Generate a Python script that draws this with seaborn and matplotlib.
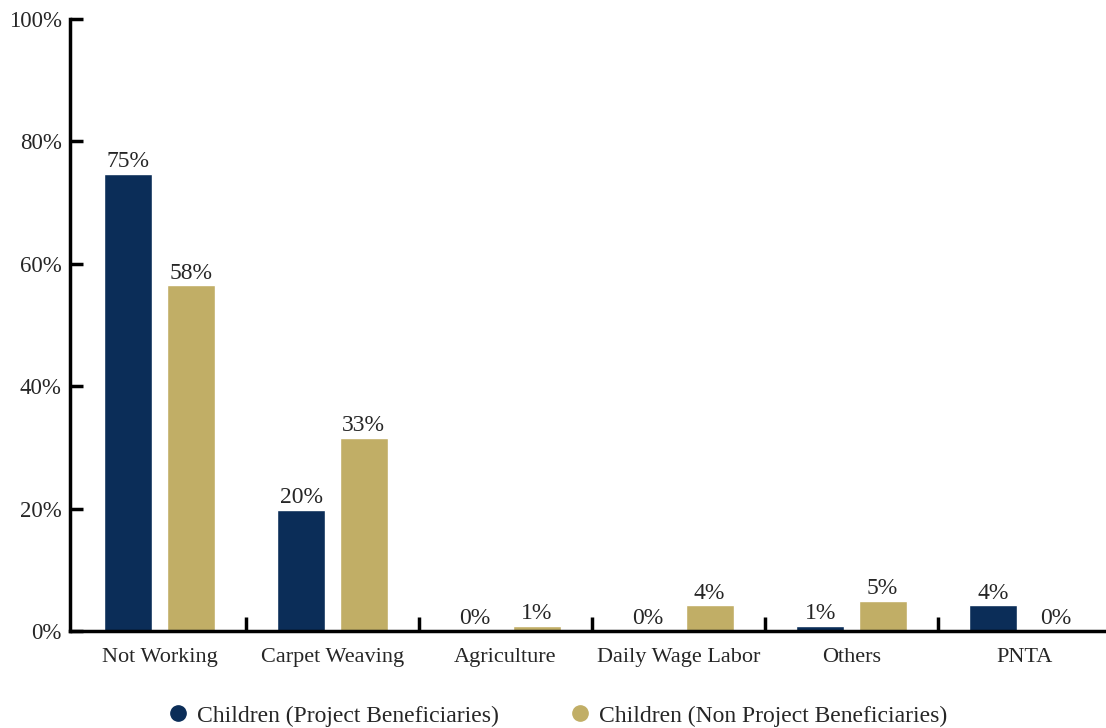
import matplotlib
matplotlib.use("Agg")
import matplotlib.pyplot as plt
import seaborn as sns
import pandas as pd
from matplotlib.lines import Line2D
from matplotlib.ticker import FixedLocator

categories = ["Not Working", "Carpet Weaving", "Agriculture", "Daily Wage Labor", "Others", "PNTA"]
series_names = ["Children (Project Beneficiaries)", "Children (Non Project Beneficiaries)"]
project_vals = [74.7, 19.8, 0.0, 0.0, 0.8, 4.2]
non_project_vals = [56.5, 31.6, 0.8, 4.2, 4.9, 0.0]
project_labels = ["75%", "20%", "0%", "0%", "1%", "4%"]
non_project_labels = ["58%", "33%", "1%", "4%", "5%", "0%"]
y_ticks = [0, 20, 40, 60, 80, 100]
colors = ["#0b2d58", "#c1ae66"]

sns.set_theme(style="white")
plt.rcParams['font.family'] = ['Liberation Serif', 'DejaVu Serif']

df = pd.DataFrame({
    "category": categories * 2,
    "series": [series_names[0]] * len(categories) + [series_names[1]] * len(categories),
    "value": project_vals + non_project_vals,
})

fig = plt.figure(figsize=(11.06, 7.28), dpi=100)
ax = fig.add_axes([70 / 1106, 1 - 631 / 728, 1041 / 1106, (631 - 19) / 728])

sns.barplot(data=df, x="category", y="value", hue="series", order=categories,
            hue_order=series_names, palette=colors, width=0.72, gap=0.23,
            saturation=1, legend=False, ax=ax, errorbar=None)

text_color = "#262626"
offsets = [-0.18, 0.18]
for s, (vals, labs) in enumerate([(project_vals, project_labels), (non_project_vals, non_project_labels)]):
    for i, (v, lab) in enumerate(zip(vals, labs)):
        ax.annotate(lab, (i + offsets[s], v), xytext=(0, 1.2), textcoords="offset points",
                    ha="center", va="bottom", fontsize=17, color=text_color)

ax.set_ylim(0, 100)
ax.set_xlim(-0.517, 5.5)
ax.set_yticks(y_ticks)
ax.set_yticklabels([f"{t}%" for t in y_ticks], fontsize=16.5, color=text_color)
ax.set_xticks(range(len(categories)))
ax.set_xticklabels(categories, fontsize=16, color=text_color)
ax.xaxis.set_minor_locator(FixedLocator([0.5, 1.5, 2.5, 3.5, 4.5]))
ax.tick_params(axis="x", which="major", length=0, pad=12)
ax.tick_params(axis="x", which="minor", direction="in", length=10, width=2.5, color="black", bottom=True)
ax.tick_params(axis="y", which="major", direction="in", length=9, width=2.5, color="black", left=True, pad=6)
ax.set_xlabel("")
ax.set_ylabel("")
for side in ["top", "right"]:
    ax.spines[side].set_visible(False)
for side in ["left", "bottom"]:
    ax.spines[side].set_linewidth(2.5)
    ax.spines[side].set_color("black")
ax.grid(False)

handles = [Line2D([0], [0], marker="o", linestyle="", markersize=11, markerfacecolor=c,
                  markeredgecolor=c) for c in colors]
fig.legend(handles, series_names, loc="center", bbox_to_anchor=(0.498, 1 - 716 / 728), ncol=2,
           frameon=False, fontsize=17, handletextpad=-0.2, columnspacing=2.45,
           labelcolor=text_color)

fig.savefig("out.png", dpi=100)
